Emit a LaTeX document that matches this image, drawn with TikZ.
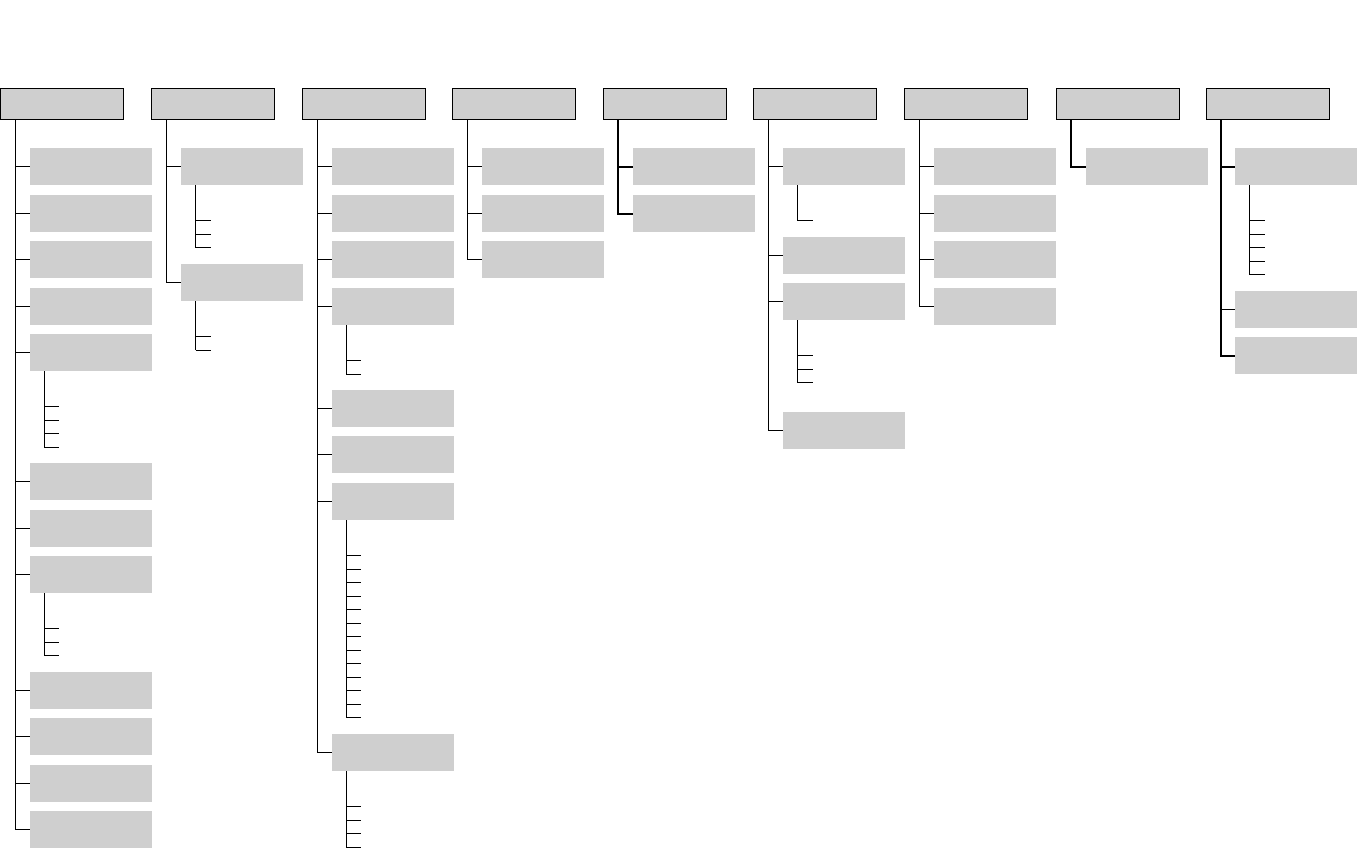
\documentclass[tikz,border=0pt]{standalone}
\usepackage{tikz}
\usetikzlibrary{calc}
\definecolor{boxgray}{RGB}{207,207,207}
% short ticks hanging under a leaf box: node, number of ticks
\newcommand{\twigs}[2]{%
  \draw ($(#1.south west)+(14.5,0)$) -- ++(0,{35.5+13.5*(#2-1)});
  \foreach \tw in {1,...,#2}
    \draw ($(#1.south west)+(14.5,{35.5+13.5*(\tw-1)})$) -- ++(15,0);
}

\begin{document}
\begin{tikzpicture}[x=0.75pt, y=-0.75pt, line width=0.75pt,
    head/.style={draw, fill=boxgray, minimum width=92.25pt, minimum height=23.25pt, inner sep=0pt, outer sep=0pt, anchor=north west},
    leaf/.style={fill=boxgray, minimum width=91.5pt, minimum height=28pt, inner sep=0pt, outer sep=0pt, anchor=north west},
    heavy/.style={line width=1.5pt}]
    \useasboundingbox (0,0) rectangle (1357,849);

    % header row
    \node[head] (g1) at (0.5, 88.5) {};
    \node[head] (g2) at (151.5, 88.5) {};
    \node[head] (g3) at (302, 88.5) {};
    \node[head] (g4) at (452.5, 88.5) {};
    \node[head] (g5) at (603.3, 88.5) {};
    \node[head] (g6) at (753.3, 88.5) {};
    \node[head] (g7) at (904, 88.5) {};
    \node[head] (g8) at (1056.3, 88.5) {};
    \node[head] (g9) at (1206.3, 88.5) {};

    % column 1
    \node[leaf] (g1a) at (29.5, 148) {};
    \node[leaf] (g1b) at (29.5, 195) {};
    \node[leaf] (g1c) at (29.5, 241) {};
    \node[leaf] (g1d) at (29.5, 288) {};
    \node[leaf] (g1e) at (29.5, 334) {};
    \node[leaf] (g1f) at (29.5, 463) {};
    \node[leaf] (g1g) at (29.5, 510) {};
    \node[leaf] (g1h) at (29.5, 556) {};
    \node[leaf] (g1i) at (29.5, 672) {};
    \node[leaf] (g1j) at (29.5, 718) {};
    \node[leaf] (g1k) at (29.5, 765) {};
    \node[leaf] (g1l) at (29.5, 811) {};

    % column 2
    \node[leaf] (g2a) at (181, 148) {};
    \node[leaf] (g2b) at (181, 264) {};

    % column 3
    \node[leaf] (g3a) at (331.5, 148) {};
    \node[leaf] (g3b) at (331.5, 195) {};
    \node[leaf] (g3c) at (331.5, 241) {};
    \node[leaf] (g3d) at (331.5, 288) {};
    \node[leaf] (g3e) at (331.5, 390) {};
    \node[leaf] (g3f) at (331.5, 436) {};
    \node[leaf] (g3g) at (331.5, 483) {};
    \node[leaf] (g3h) at (331.5, 734) {};

    % column 4
    \node[leaf] (g4a) at (482, 148) {};
    \node[leaf] (g4b) at (482, 195) {};
    \node[leaf] (g4c) at (482, 241) {};

    % column 5
    \node[leaf] (g5a) at (633, 148) {};
    \node[leaf] (g5b) at (633, 195) {};

    % column 6
    \node[leaf] (g6a) at (783, 148) {};
    \node[leaf] (g6b) at (783, 237) {};
    \node[leaf] (g6c) at (783, 283) {};
    \node[leaf] (g6d) at (783, 412) {};

    % column 7
    \node[leaf] (g7a) at (933.5, 148) {};
    \node[leaf] (g7b) at (933.5, 195) {};
    \node[leaf] (g7c) at (933.5, 241) {};
    \node[leaf] (g7d) at (933.5, 288) {};

    % column 8
    \node[leaf] (g8a) at (1085.5, 148) {};

    % column 9
    \node[leaf] (g9a) at (1235, 148) {};
    \node[leaf] (g9b) at (1235, 291) {};
    \node[leaf] (g9c) at (1235, 337) {};

    % connectors
    \foreach \c in {g1a,g1b,g1c,g1d,g1e,g1f,g1g,g1h,g1i,g1j,g1k,g1l}
        \draw ($(g1.south west)+(15,0)$) |- (\c.west);
    \foreach \c in {g2a,g2b}
        \draw ($(g2.south west)+(15,0)$) |- (\c.west);
    \foreach \c in {g3a,g3b,g3c,g3d,g3e,g3f,g3g,g3h}
        \draw ($(g3.south west)+(15,0)$) |- (\c.west);
    \foreach \c in {g4a,g4b,g4c}
        \draw ($(g4.south west)+(15,0)$) |- (\c.west);
    \foreach \c in {g5a,g5b}
        \draw[heavy] ($(g5.south west)+(15,0)$) |- (\c.west);
    \foreach \c in {g6a,g6b,g6c,g6d}
        \draw ($(g6.south west)+(15,0)$) |- (\c.west);
    \foreach \c in {g7a,g7b,g7c,g7d}
        \draw ($(g7.south west)+(15,0)$) |- (\c.west);
    \draw[heavy] ($(g8.south west)+(15,0)$) |- (g8a.west);
    \foreach \c in {g9a,g9c}
        \draw[heavy] ($(g9.south west)+(15,0)$) |- (\c.west);
    \draw ($(g9.south west)+(15,0)$) |- (g9b.west);

    % ticks below leaves
    \twigs{g1e}{4}
    \twigs{g1h}{3}
    \twigs{g2a}{3}
    \twigs{g2b}{2}
    \twigs{g3d}{2}
    \twigs{g3g}{13}
    \twigs{g3h}{4}
    \twigs{g6a}{1}
    \twigs{g6c}{3}
    \twigs{g9a}{5}
\end{tikzpicture}
\end{document}
